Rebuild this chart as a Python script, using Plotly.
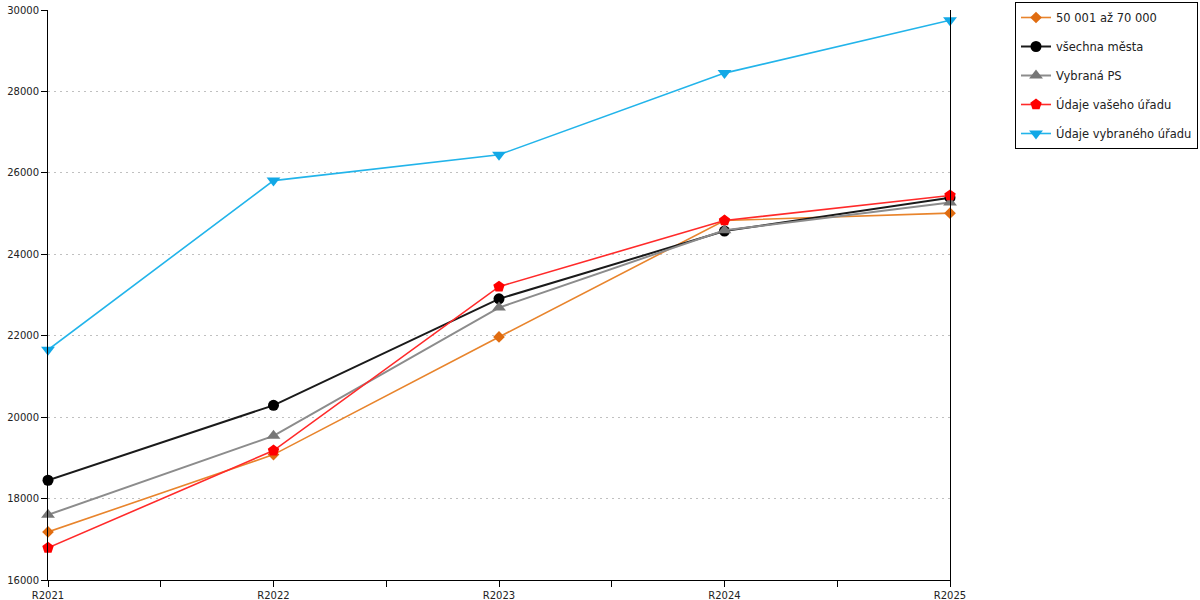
import plotly.graph_objects as go

# kategorie a hodnoty
roky = ["R2021", "R2022", "R2023", "R2024", "R2025"]

mesta_50_70 = [17180, 19080, 21970, 24830, 25010]
vsechna_mesta = [18450, 20290, 22905, 24570, 25390]
vybrana_ps = [17600, 19540, 22690, 24590, 25270]
vas_urad = [16790, 19180, 23205, 24830, 25445]
vybrany_urad = [21655, 25810, 26445, 28450, 29750]

x = list(range(len(roky)))

# popisky osy x vcetne mezilehlych carek
tick_x = [i / 2 for i in range(2 * len(roky) - 1)]
tick_txt = [roky[int(t)] if t == int(t) else "" for t in tick_x]

serie = [
    ("50 001 až 70 000", mesta_50_70, "#e8842c", "#e06c10", "diamond", 9, 1.6),
    ("všechna města", vsechna_mesta, "#1a1a1a", "#000000", "circle", 11, 2),
    ("Vybraná PS", vybrana_ps, "#8c8c8c", "#777777", "triangle-up", 12, 2),
    ("Údaje vašeho úřadu", vas_urad, "#ff2a2a", "#ff0000", "pentagon", 12, 1.6),
    ("Údaje vybraného úřadu", vybrany_urad, "#22b4ea", "#12a8e6", "triangle-down", 12, 1.6),
]

fig = go.Figure()
for i, (nazev, vals, barva, mbarva, sym, vel, sirka) in enumerate(serie):
    fig.add_trace(go.Scatter(
        x=x, y=vals, name=nazev, mode="lines+markers",
        line=dict(color=barva, width=sirka),
        marker=dict(symbol=sym, size=vel, color=mbarva),
        legendgroup=str(i), cliponaxis=False,
    ))

fig.update_layout(
    width=1200, height=600,
    margin=dict(l=48, r=250, t=10, b=20, autoexpand=False),
    plot_bgcolor="white", paper_bgcolor="white",
    font=dict(family="DejaVu Sans", size=10, color="#222"),
    showlegend=True,
    legend=dict(
        x=(1198 - 48) / 902, xanchor="right", y=1 + 8 / 570, yanchor="top",
        bordercolor="#000", borderwidth=1,
        font=dict(size=11.5, color="#222"),
        tracegroupgap=10,
    ),
    xaxis=dict(
        range=[0, len(roky) - 1], automargin=False,
        tickmode="array", tickvals=tick_x, ticktext=tick_txt,
        showgrid=False, zeroline=False,
        showline=True, linecolor="#000", linewidth=1,
        ticks="outside", ticklen=6, tickcolor="#000",
    ),
    yaxis=dict(
        range=[16000, 30000], dtick=2000, tickformat="d", automargin=False,
        showgrid=True, gridcolor="#c0c0c0", griddash="2px,4px", gridwidth=1,
        zeroline=False,
        showline=True, linecolor="#000", linewidth=1, mirror=True,
        ticks="outside", ticklen=6, tickcolor="#000",
    ),
)

# bez okraje stranky, aby graf sedel na 1200x600
fig.write_html("out.html", config={"displayModeBar": False},
               post_script="document.body.style.margin = '0';")
